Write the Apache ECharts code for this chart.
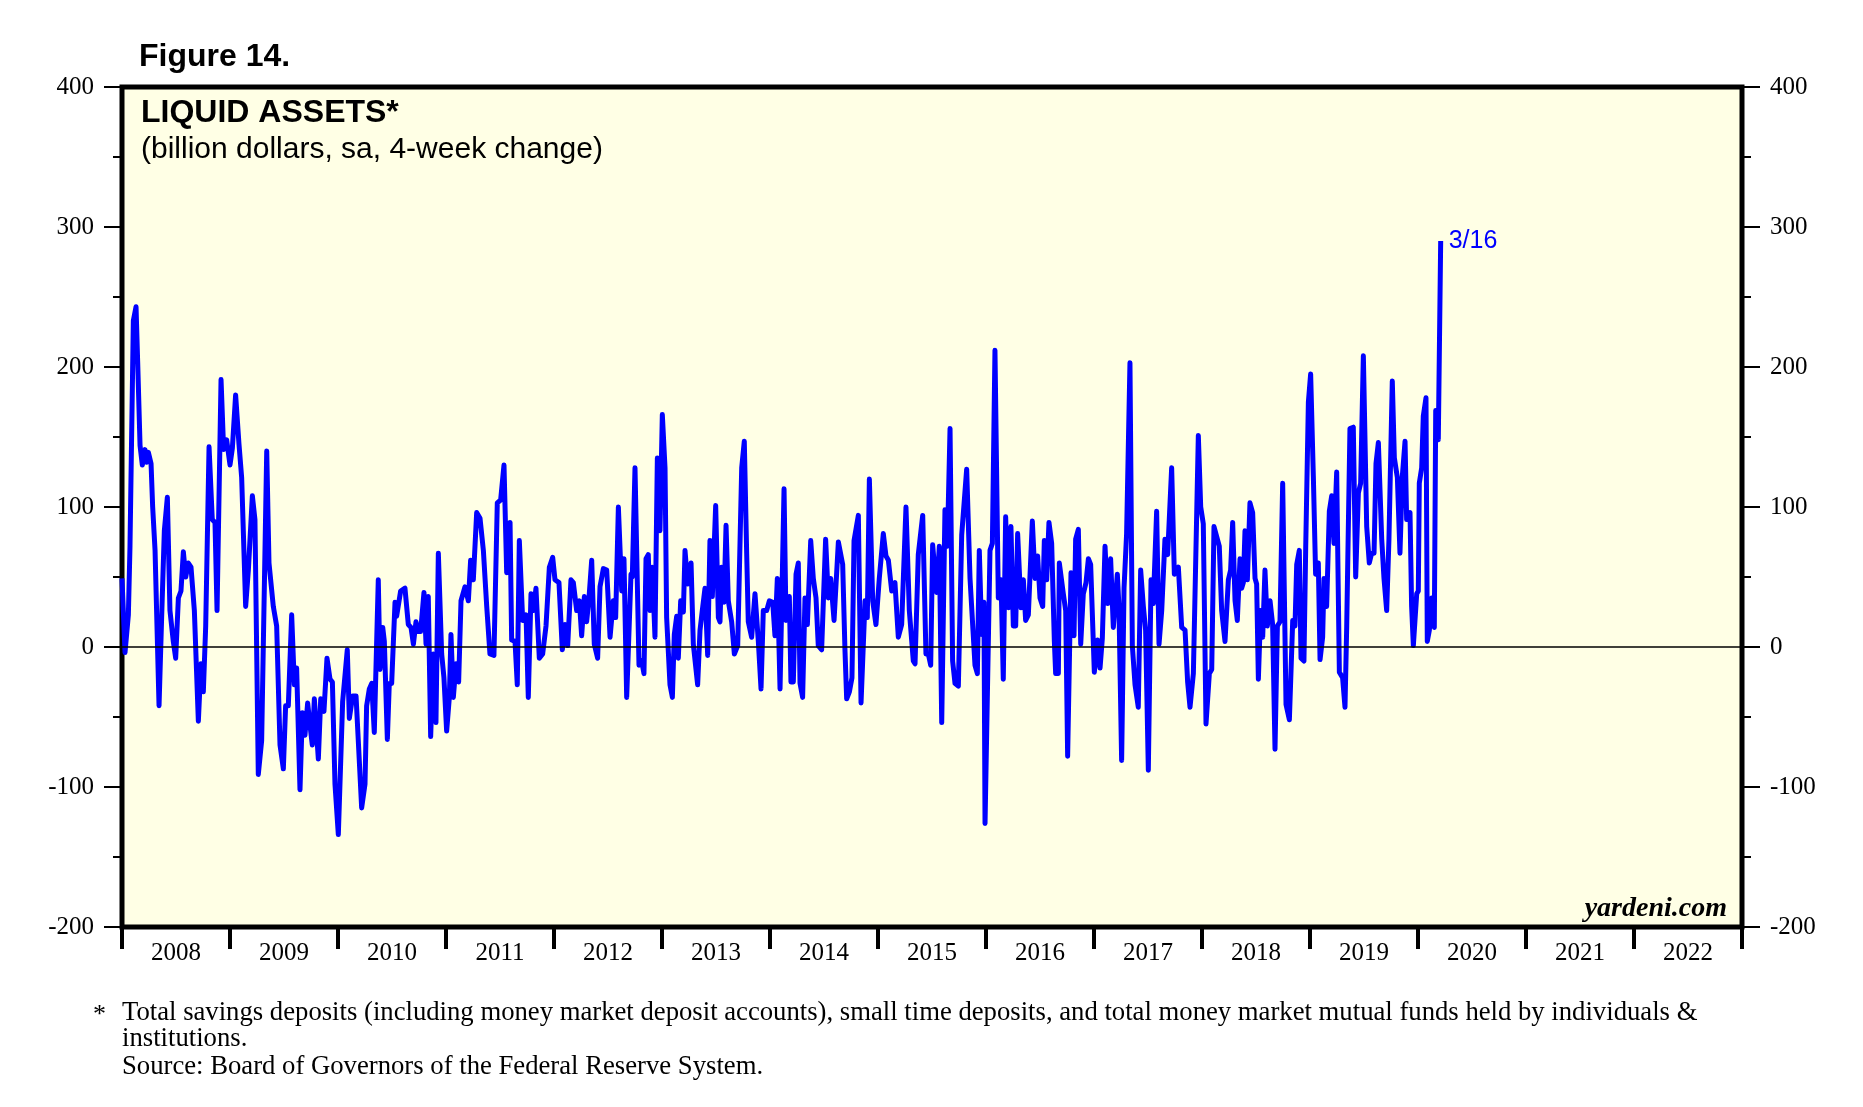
<!DOCTYPE html>
<html>
<head>
<meta charset="utf-8">
<script src="https://cdn.jsdelivr.net/npm/echarts@6/dist/echarts.min.js"></script>
<style>
html,body{margin:0;padding:0;background:#fff;}
#chart{width:1863px;height:1107px;}
</style>
</head>
<body>
<div id="chart"></div>
<script>
// ---- data (weekly 4-week change, billion dollars; x = decimal year) ----
const yearLabels = ['2008','2009','2010','2011','2012','2013','2014','2015','2016','2017','2018','2019','2020','2021','2022'];
const yTicks = [-200,-100,0,100,200,300,400];
const lastLabel = '3/16';

const weekYears = [
2008.000,2008.028,2008.059,2008.074,2008.105,2008.130,2008.145,2008.167,2008.188,2008.213,2008.228,2008.244,2008.269,2008.284,2008.306,2008.343,2008.367,2008.392,2008.420,2008.444,2008.475,2008.497,2008.522,2008.546,2008.568,2008.590,2008.614,2008.639,2008.670,2008.707,2008.731,2008.753,2008.775,2008.806,2008.836,2008.861,2008.880,2008.917,2008.941,2008.969,
2009.000,2009.022,2009.052,2009.083,2009.108,2009.145,2009.170,2009.207,2009.231,2009.262,2009.293,2009.340,2009.361,2009.401,2009.432,2009.463,2009.494,2009.515,2009.540,2009.571,2009.596,2009.617,2009.648,2009.670,2009.694,2009.719,2009.741,2009.762,2009.781,2009.818,2009.840,2009.870,2009.898,2009.926,2009.948,2009.972,
2010.003,2010.043,2010.086,2010.105,2010.136,2010.167,2010.188,2010.219,2010.250,2010.265,2010.290,2010.312,2010.336,2010.373,2010.389,2010.414,2010.429,2010.457,2010.475,2010.497,2010.528,2010.543,2010.580,2010.620,2010.651,2010.676,2010.698,2010.722,2010.744,2010.765,2010.796,2010.815,2010.836,2010.858,2010.883,2010.907,2010.929,2010.960,2010.981,
2011.006,2011.031,2011.046,2011.068,2011.093,2011.117,2011.139,2011.176,2011.207,2011.228,2011.253,2011.284,2011.315,2011.346,2011.377,2011.407,2011.444,2011.475,2011.506,2011.537,2011.562,2011.593,2011.608,2011.639,2011.660,2011.679,2011.710,2011.741,2011.762,2011.787,2011.809,2011.833,2011.864,2011.895,2011.926,2011.957,2011.988,
2012.009,2012.046,2012.077,2012.102,2012.127,2012.157,2012.179,2012.210,2012.235,2012.256,2012.281,2012.302,2012.324,2012.349,2012.373,2012.404,2012.426,2012.457,2012.488,2012.519,2012.549,2012.571,2012.596,2012.627,2012.648,2012.673,2012.713,2012.725,2012.750,2012.787,2012.812,2012.833,2012.852,2012.873,2012.889,2012.910,2012.935,2012.957,2012.981,
2013.003,2013.028,2013.043,2013.074,2013.096,2013.114,2013.136,2013.151,2013.173,2013.198,2013.213,2013.238,2013.269,2013.290,2013.330,2013.352,2013.373,2013.398,2013.423,2013.444,2013.466,2013.497,2013.522,2013.537,2013.552,2013.574,2013.593,2013.614,2013.645,2013.670,2013.701,2013.738,2013.762,2013.784,2013.799,2013.830,2013.861,2013.892,2013.917,2013.938,2013.969,
2013.994,2014.025,2014.046,2014.068,2014.093,2014.130,2014.148,2014.179,2014.194,2014.216,2014.241,2014.262,2014.278,2014.302,2014.324,2014.346,2014.377,2014.401,2014.426,2014.447,2014.478,2014.515,2014.540,2014.562,2014.593,2014.633,2014.673,2014.694,2014.710,2014.735,2014.759,2014.778,2014.818,2014.843,2014.880,2014.901,2014.920,2014.951,2014.981,
2015.012,2015.049,2015.074,2015.096,2015.127,2015.157,2015.188,2015.219,2015.259,2015.290,2015.327,2015.343,2015.373,2015.414,2015.444,2015.466,2015.488,2015.506,2015.543,2015.568,2015.590,2015.620,2015.642,2015.667,2015.691,2015.713,2015.744,2015.775,2015.821,2015.852,2015.898,2015.920,2015.938,2015.960,2015.981,2015.991,
2016.037,2016.059,2016.083,2016.114,2016.139,2016.160,2016.182,2016.207,2016.231,2016.253,2016.275,2016.293,2016.324,2016.346,2016.367,2016.392,2016.429,2016.454,2016.478,2016.500,2016.525,2016.540,2016.562,2016.583,2016.608,2016.633,2016.645,2016.670,2016.679,2016.716,2016.738,2016.756,2016.787,2016.815,2016.830,2016.855,2016.877,2016.901,2016.926,2016.948,2016.969,
2017.003,2017.034,2017.056,2017.077,2017.102,2017.127,2017.154,2017.179,2017.216,2017.231,2017.256,2017.278,2017.302,2017.333,2017.355,2017.380,2017.410,2017.432,2017.457,2017.478,2017.503,2017.528,2017.549,2017.580,2017.602,2017.627,2017.657,2017.682,2017.719,2017.744,2017.781,2017.812,2017.843,2017.867,2017.889,2017.920,2017.966,2017.988,
2018.012,2018.037,2018.068,2018.090,2018.111,2018.160,2018.182,2018.213,2018.244,2018.265,2018.284,2018.306,2018.327,2018.352,2018.367,2018.383,2018.398,2018.420,2018.444,2018.469,2018.491,2018.506,2018.522,2018.543,2018.562,2018.583,2018.605,2018.630,2018.654,2018.676,2018.698,2018.722,2018.747,2018.778,2018.809,2018.840,2018.861,2018.877,2018.901,2018.917,2018.944,2018.960,2018.985,
2019.006,2019.031,2019.052,2019.077,2019.093,2019.117,2019.130,2019.154,2019.179,2019.201,2019.222,2019.247,2019.272,2019.302,2019.324,2019.340,2019.370,2019.401,2019.423,2019.448,2019.469,2019.494,2019.525,2019.549,2019.571,2019.593,2019.611,2019.633,2019.664,2019.685,2019.710,2019.731,2019.762,2019.781,2019.809,2019.833,2019.855,2019.880,2019.895,2019.926,2019.941,2019.957,2019.988,
2020.003,2020.012,2020.034,2020.049,2020.074,2020.086,2020.105,2020.127,2020.151,2020.164,2020.188,2020.210
];

const changes = [
49,-4,23,72,233,243,204,144,130,141,132,139,131,100,69,-42,21,83,107,26,4,-8,35,40,68,50,60,57,26,-53,-12,-32,15,143,91,89,26,191,141,148,
130,142,180,145,121,29,55,108,91,-91,-67,140,60,29,15,-70,-87,-42,-42,23,-27,-15,-102,-47,-63,-40,-56,-70,-37,-80,-37,-46,-8,-23,-25,-98,
-134,-39,-2,-51,-35,-35,-67,-115,-98,-42,-30,-26,-61,48,-16,14,4,-66,-26,-26,32,22,40,42,16,14,2,18,11,11,39,2,36,-64,-5,-54,67,-5,-22,
-60,-36,9,-36,-12,-25,33,43,33,62,48,96,92,69,29,-5,-6,103,105,130,53,89,5,4,-27,76,19,23,-36,38,26,42,-8,-5,15,57,64,
48,46,-2,16,1,48,46,26,33,8,36,18,35,62,2,-8,43,56,55,7,33,21,100,40,63,-36,52,50,128,-13,-10,-19,63,66,26,57,7,135,83,
166,128,21,-27,-36,9,22,-8,33,25,69,45,60,2,-27,12,26,42,-6,76,36,101,21,18,57,32,87,33,18,-5,1,128,147,67,18,7,38,4,-30,26,26,
33,32,8,49,-30,113,19,36,-25,-25,52,60,-26,-36,35,16,76,49,35,1,-2,77,35,49,19,75,59,-2,-37,-32,-22,76,94,-40,33,21,120,33,16,
49,81,65,62,40,46,7,16,100,26,-10,-12,66,94,-5,-5,-13,73,39,72,-54,98,72,156,-10,-26,-28,80,127,49,-13,-19,69,9,32,-126,
69,74,212,35,48,-23,93,28,86,15,15,81,28,48,19,23,90,49,65,35,29,76,48,89,74,4,-19,-19,60,38,26,-78,53,8,77,84,2,38,46,63,59,
-18,5,-15,6,72,31,63,14,52,29,-81,42,81,203,1,-27,-43,55,29,12,-88,48,31,97,2,26,77,66,128,52,57,14,12,-25,-43,-19,151,100,
88,-55,-19,-16,86,72,26,4,48,55,89,33,19,63,42,46,83,48,103,96,49,45,-23,26,7,55,15,33,16,-73,15,18,117,-41,-52,19,15,59,69,-8,-10,70,175,
195,122,52,60,-9,7,49,29,97,108,74,125,-18,-22,-43,15,156,157,50,110,117,208,86,60,67,67,131,146,77,49,26,77,190,135,121,67,122,147,91,96,29,1,38,
40,117,128,165,178,4,12,35,14,169,148,290
];

const seriesData = weekYears.map((t, i) => [t, changes[i]]);

const serif = 'Liberation Serif, Times New Roman, serif';
const sans = 'Liberation Sans, Arial, sans-serif';

const chart = echarts.init(document.getElementById('chart'), null, {renderer: 'canvas'});

function yAxisCfg(pos) {
  return {
    type: 'value', position: pos, min: yTicks[0], max: yTicks[yTicks.length - 1], interval: 100,
    axisLine: {show: false, onZero: false},
    axisTick: {show: true, inside: false, length: 18, lineStyle: {color: '#000', width: 2}},
    minorTick: {show: true, splitNumber: 2, length: 9, lineStyle: {color: '#000', width: 2}},
    splitLine: {show: false},
    axisLabel: {color: '#000', fontFamily: serif, fontSize: 25, margin: 28}
  };
}

chart.setOption({
  animation: false,
  backgroundColor: '#ffffff',
  grid: {
    left: 122, right: 121, top: 87, bottom: 180,
    show: true, backgroundColor: '#FFFFE5', borderColor: '#000', borderWidth: 5
  },
  xAxis: [
    {type: 'value', min: 2008, max: 2023, show: false, axisLine: {onZero: false}},
    {
      type: 'category', data: yearLabels, position: 'bottom', boundaryGap: true,
      axisLine: {show: false, onZero: false},
      axisTick: {show: true, inside: false, length: 22, interval: 0, lineStyle: {color: '#000', width: 4}},
      axisLabel: {color: '#000', fontFamily: serif, fontSize: 25, margin: 14, interval: 0},
      splitLine: {show: false}
    }
  ],
  yAxis: [yAxisCfg('left'), yAxisCfg('right')],
  series: [{
    type: 'line', xAxisIndex: 0, yAxisIndex: 0, data: seriesData,
    showSymbol: false, symbol: 'none',
    lineStyle: {color: '#0000FF', width: 5, join: 'round'},
    endLabel: {show: true, formatter: lastLabel, color: '#0000FF', fontFamily: sans, fontSize: 25, distance: 8},
    markLine: {
      silent: true, symbol: ['none', 'none'], label: {show: false},
      lineStyle: {color: '#000', width: 1.5, type: 'solid'},
      data: [{yAxis: 0}]
    }
  }],
  graphic: [
    {type: 'text', left: 139, top: 41, style: {text: 'Figure 14.', font: 'bold 32px ' + sans, fill: '#000'}},
    {type: 'text', left: 141, top: 97, style: {text: 'LIQUID ASSETS*', font: 'bold 32px ' + sans, fill: '#000'}},
    {type: 'text', left: 141, top: 135, style: {text: '(billion dollars, sa, 4-week change)', font: '30px ' + sans, fill: '#000'}},
    {type: 'text', right: 136, top: 895, style: {text: 'yardeni.com', font: 'italic bold 28px ' + serif, fill: '#000'}},
    {type: 'text', left: 93, top: 1002, style: {text: '*', font: '26px ' + serif, fill: '#000'}},
    {type: 'text', left: 122, top: 999, style: {text: 'Total savings deposits (including money market deposit accounts), small time deposits, and total money market mutual funds held by individuals &', font: '26.7px ' + serif, fill: '#000'}},
    {type: 'text', left: 122, top: 1025, style: {text: 'institutions.', font: '26.7px ' + serif, fill: '#000'}},
    {type: 'text', left: 122, top: 1053, style: {text: 'Source: Board of Governors of the Federal Reserve System.', font: '26.7px ' + serif, fill: '#000'}}
  ]
});
</script>
</body>
</html>
